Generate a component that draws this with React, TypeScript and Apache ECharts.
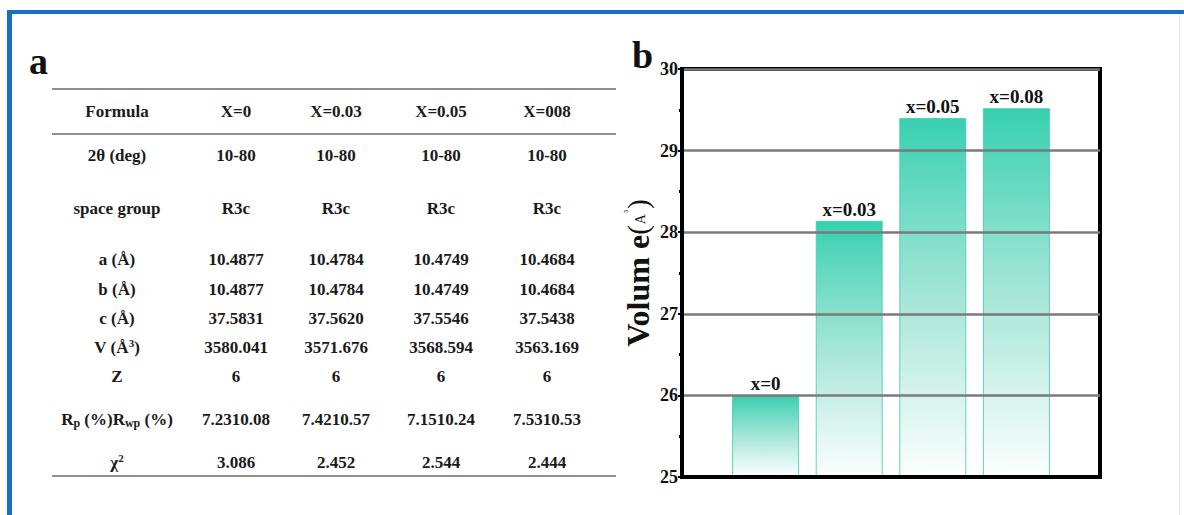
import React, { useEffect, useRef } from "react";
import * as echarts from "echarts";

// Bar chart (panel b)
const categories = ["x=0", "x=0.03", "x=0.05", "x=0.08"];
const volumes = [26.0, 28.14, 29.4, 29.52];
const yTicks = [25, 26, 27, 28, 29, 30];

// Refinement table (panel a)
const headerRow = ["Formula", "X=0", "X=0.03", "X=0.05", "X=008"];
const rowLabels = [
  "2θ (deg)",
  "space group",
  "a (Å)",
  "b (Å)",
  "c (Å)",
  "V (Å{sup|3})",
  "Z",
  "R{sub|p} (%)R{sub|wp} (%)",
  "χ{sup|2}",
];
const rowTheta = ["10-80", "10-80", "10-80", "10-80"];
const rowGroup = ["R3c", "R3c", "R3c", "R3c"];
const rowA = ["10.4877", "10.4784", "10.4749", "10.4684"];
const rowB = ["10.4877", "10.4784", "10.4749", "10.4684"];
const rowC = ["37.5831", "37.5620", "37.5546", "37.5438"];
const rowV = ["3580.041", "3571.676", "3568.594", "3563.169"];
const rowZ = ["6", "6", "6", "6"];
const rowR = ["7.2310.08", "7.4210.57", "7.1510.24", "7.5310.53"];
const rowChi = ["3.086", "2.452", "2.544", "2.444"];
const tableRows = [rowTheta, rowGroup, rowA, rowB, rowC, rowV, rowZ, rowR, rowChi];

const SERIF = "Liberation Serif";

export default function App() {
  const ref = useRef<HTMLDivElement>(null);

  useEffect(() => {
    if (!ref.current) return;
    const chart = echarts.init(ref.current, null, { renderer: "svg" });

    const colX = [117, 236, 336, 441, 547];
    const headerY = 111;
    const rowY = [155, 208, 259, 289, 318, 347, 376, 419, 462];
    const cellFont = { fontFamily: SERIF, fontWeight: "bold", fontSize: 17, fill: "#1a1a1a" };
    const rich = {
      sub: { fontFamily: SERIF, fontWeight: "bold", fontSize: 12, fill: "#1a1a1a", verticalAlign: "bottom", padding: [8, 0, 0, 0] },
      sup: { fontFamily: SERIF, fontWeight: "bold", fontSize: 11, fill: "#1a1a1a", verticalAlign: "top", padding: [0, 0, 8, 0] },
    };

    const tableTexts: any[] = [];
    headerRow.forEach((h, i) => {
      tableTexts.push({
        type: "text",
        x: colX[i],
        y: headerY,
        style: { text: h, align: "center", verticalAlign: "middle", ...cellFont },
      });
    });
    rowLabels.forEach((lab, r) => {
      tableTexts.push({
        type: "text",
        x: colX[0],
        y: rowY[r],
        style: { text: lab, align: "center", verticalAlign: "middle", ...cellFont, rich },
      });
      tableRows[r].forEach((v, c) => {
        tableTexts.push({
          type: "text",
          x: colX[c + 1],
          y: rowY[r],
          style: { text: v, align: "center", verticalAlign: "middle", ...cellFont },
        });
      });
    });

    const rule = (y: number) => ({
      type: "line",
      shape: { x1: 52, y1: y, x2: 616, y2: y },
      style: { stroke: "#6b6b6b", lineWidth: 1.6 },
    });

    chart.setOption({
      animation: false,
      backgroundColor: "#ffffff",
      textStyle: { fontFamily: SERIF },
      grid: {
        left: 682,
        top: 69,
        width: 418,
        height: 408,
        show: true,
        borderColor: "#000",
        borderWidth: 4,
        backgroundColor: "transparent",
      },
      xAxis: {
        type: "value",
        min: 0,
        max: categories.length + 1,
        z: 5,
        axisLine: { show: true, lineStyle: { color: "#000", width: 4 } },
        axisTick: { show: false },
        axisLabel: { show: false },
        splitLine: { show: false },
      },
      yAxis: {
        type: "value",
        min: yTicks[0],
        max: yTicks[yTicks.length - 1],
        interval: 1,
        z: 5,
        name: "{v|Volum e}{p|(}{a|A}{s|³}{p|)}",
        nameLocation: "middle",
        nameGap: 28,
        nameRotate: 90,
        nameTextStyle: {
          rich: {
            v: { fontFamily: SERIF, fontWeight: "bold", fontSize: 32, color: "#111" },
            p: { fontFamily: SERIF, fontSize: 29, color: "#111" },
            a: { fontFamily: SERIF, fontSize: 14, color: "#111", padding: [4, 1, 0, 1] },
            s: { fontFamily: SERIF, fontSize: 10, color: "#111", verticalAlign: "top", padding: [0, 1, 10, 0] },
          },
        },
        axisLine: { show: true, lineStyle: { color: "#000", width: 4 } },
        axisTick: { show: true, length: 4, lineStyle: { color: "#000", width: 2 } },
        minorTick: { show: true, splitNumber: 2, length: 3, lineStyle: { color: "#000", width: 3 } },
        axisLabel: {
          margin: 4,
          fontFamily: SERIF,
          fontWeight: "bold",
          fontSize: 18,
          color: "#111",
        },
        splitLine: { show: true, lineStyle: { color: "#7a7a7a", width: 2.5 } },
      },
      series: [
        {
          type: "bar",
          barWidth: 67,
          data: volumes.map((v, i) => [i + 1, v]),
          itemStyle: {
            borderColor: "rgba(70,205,178,0.85)",
            borderWidth: 1,
            color: new echarts.graphic.LinearGradient(0, 0, 0, 1, [
              { offset: 0, color: "rgba(50,207,174,0.98)" },
              { offset: 0.55, color: "rgba(160,228,212,0.85)" },
              { offset: 1, color: "rgba(252,255,254,0.82)" },
            ]),
          },
          label: {
            show: true,
            position: "top",
            distance: 2,
            formatter: (p: any) => categories[p.dataIndex],
            fontFamily: SERIF,
            fontWeight: "bold",
            fontSize: 19,
            color: "#111",
          },
        },
      ],
      graphic: [
        // blue frame
        { type: "rect", shape: { x: 7, y: 10, width: 1177, height: 4 }, style: { fill: "#1670c4" }, silent: true },
        { type: "rect", shape: { x: 7, y: 10, width: 5, height: 505 }, style: { fill: "#1670c4" }, silent: true },
        { type: "rect", shape: { x: 1179, y: 14, width: 1, height: 501 }, style: { fill: "#dde6ee" }, silent: true },
        // panel letters
        { type: "text", x: 29, y: 42, style: { text: "a", fontFamily: SERIF, fontWeight: "bold", fontSize: 38, fill: "#111" } },
        { type: "text", x: 632, y: 36, style: { text: "b", fontFamily: SERIF, fontWeight: "bold", fontSize: 38, fill: "#111" } },
        // table rules
        rule(89),
        rule(134),
        rule(476),
        ...tableTexts,
      ],
    });

    return () => chart.dispose();
  }, []);

  return (
    <div
      ref={ref}
      style={{ position: "fixed", left: 0, top: 0, width: 1184, height: 515, background: "#fff" }}
    />
  );
}
